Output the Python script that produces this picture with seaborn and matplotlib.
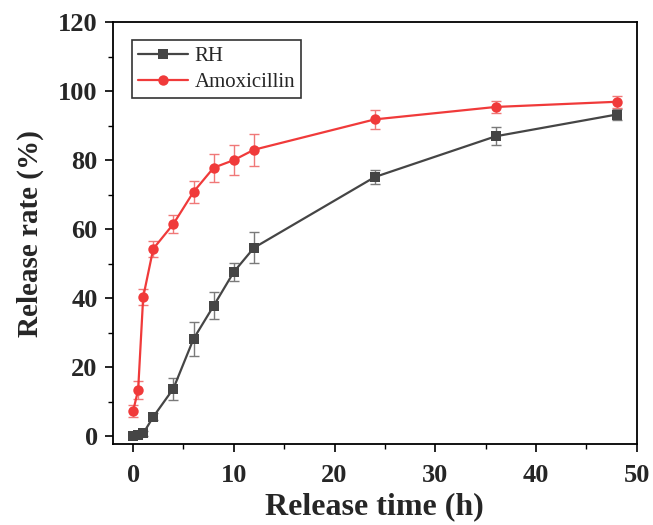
import numpy as np
import pandas as pd
import matplotlib
matplotlib.use("Agg")
import matplotlib.pyplot as plt
import seaborn as sns
from matplotlib.ticker import MultipleLocator

time_h = [0, 0.5, 1, 2, 4, 6, 8, 10, 12, 24, 36, 48]
rh_rate = [0.0, 0.3, 0.8, 5.6, 13.8, 28.2, 37.8, 47.6, 54.6, 75.1, 86.9, 93.2]
rh_err = [0.5, 0.5, 0.6, 1.0, 3.2, 5.0, 3.9, 2.6, 4.5, 2.1, 2.6, 1.5]
amox_rate = [7.3, 13.4, 40.3, 54.3, 61.5, 70.8, 77.8, 80.0, 83.0, 91.8, 95.4, 96.9]
amox_err = [1.6, 2.7, 2.3, 2.3, 2.5, 3.2, 4.1, 4.3, 4.6, 2.7, 1.7, 1.7]
series_names = ["RH", "Amoxicillin"]

rh_color = "#454545"
amox_color = "#F03A3A"

sns.set_theme(style="ticks")
plt.rcParams["font.family"] = ["Liberation Serif", "DejaVu Serif"]

df = pd.DataFrame({
    "time": time_h * 2,
    "rate": rh_rate + amox_rate,
    "sample": [series_names[0]] * len(time_h) + [series_names[1]] * len(time_h),
})

fig = plt.figure(figsize=(6.53, 5.25), dpi=100)
ax = fig.add_axes([0.173, 0.154, 0.802, 0.804])

# error bars
ax.errorbar(time_h, rh_rate, yerr=rh_err, fmt="none", ecolor="#7a7a7a",
            elinewidth=1.0, capsize=3.5, capthick=1.0, zorder=2)
ax.errorbar(time_h, amox_rate, yerr=amox_err, fmt="none", ecolor="#F07878",
            elinewidth=1.0, capsize=3.5, capthick=1.0, zorder=2)

sns.lineplot(data=df, x="time", y="rate", hue="sample", style="sample",
             markers={"RH": "s", "Amoxicillin": "o"}, dashes=False,
             palette={"RH": rh_color, "Amoxicillin": amox_color},
             linewidth=1.6, markersize=7.5, markeredgewidth=0,
             ax=ax, zorder=3)

ax.set_xlim(-2, 50)
ax.set_ylim(-2.3, 120)
ax.xaxis.set_major_locator(MultipleLocator(10))
ax.xaxis.set_minor_locator(MultipleLocator(5))
ax.yaxis.set_major_locator(MultipleLocator(20))
ax.yaxis.set_minor_locator(MultipleLocator(10))
ax.tick_params(which="major", direction="out", length=6, width=1.2,
               labelsize=19, color="black")
ax.tick_params(axis="x", which="major", pad=8)
ax.tick_params(axis="y", which="major", pad=5)
ax.tick_params(which="minor", direction="out", length=3.5, width=1.0, color="black")
for lab in ax.get_xticklabels() + ax.get_yticklabels():
    lab.set_fontweight("bold")
for sp in ax.spines.values():
    sp.set_linewidth(1.3)
    sp.set_color("black")

ax.set_xlabel("Release time (h)", fontsize=23, fontweight="bold", labelpad=4)
ax.set_ylabel("Release rate (%)", fontsize=21, fontweight="bold", labelpad=10)

leg = ax.legend(loc="upper left", bbox_to_anchor=(0.036, 0.957), borderaxespad=0,
                fontsize=15, frameon=True, fancybox=False, edgecolor="black",
                handlelength=2.4, handletextpad=0.3, borderpad=0.3,
                labelspacing=0.3, title=None)
leg.get_frame().set_linewidth(1.2)

fig.savefig("out.png", dpi=100)
